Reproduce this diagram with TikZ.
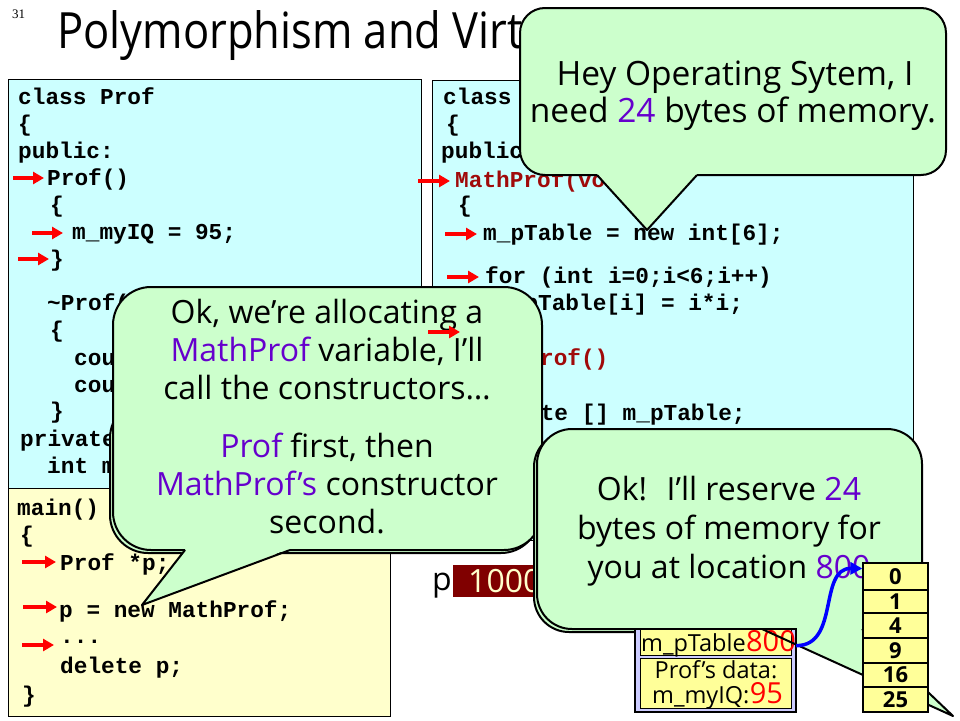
\documentclass[tikz,border=0pt]{standalone}
\usepackage{fontspec}
\usepackage{graphicx}
\setmainfont{Open Sans}
\newfontfamily\codefont{Liberation Mono}
\newfontfamily\numfont{Liberation Serif}
\usetikzlibrary{arrows.meta}
\definecolor{boxcyan}{HTML}{CCFFFF}
\definecolor{boxyellow}{HTML}{FFFFCC}
\definecolor{cgreen}{HTML}{CCFFCC}
\definecolor{cpurple}{RGB}{102,0,204}
\definecolor{codered}{RGB}{160,10,10}
\definecolor{pbox}{HTML}{800000}
\definecolor{pboxtext}{HTML}{FFFFCC}
\definecolor{memyellow}{HTML}{FFFF99}
\definecolor{memlav}{HTML}{CCCCFF}
\definecolor{arrowred}{HTML}{FF0000}
\definecolor{arrowblue}{HTML}{0000FF}
% L T R B radius baseleft baseright tipx tipy
\newcommand\mycallout[9]{%
  \fill[calloutfill,rounded corners=#5] (#1,#2) rectangle (#3,#4);
  \fill[calloutfill] (#6,{#4-1.5}) -- (#8,#9) -- (#7,{#4-1.5}) -- cycle;
  \draw[calloutline,rounded corners=#5] (#6,#4) -- (#1,#4) -- (#1,#2) -- (#3,#2) -- (#3,#4) -- (#7,#4);
  \draw[calloutline] (#7,#4) -- (#8,#9) -- (#6,#4);
}
\begin{document}
\begin{tikzpicture}[x=1pt,y=-1pt,
  codeline/.style={anchor=base west,inner sep=0pt,font=\fontsize{22.75}{27}\codefont\bfseries},
  redcode/.style={codeline,text=codered},
  ctext/.style={anchor=base,inner sep=0pt,font=\fontsize{32}{38}\selectfont},
  bigctext/.style={anchor=base,inner sep=0pt,font=\fontsize{33.5}{38}\selectfont},
  redarr/.style={draw=arrowred,line width=4pt,-{Triangle[length=11pt,width=12pt]}},
  bluearr/.style={draw=arrowblue,line width=3.5pt,-{Triangle[length=12pt,width=12pt]}},
  codebox/.style={draw=black,line width=0.8pt},
  calloutfill/.style={fill=cgreen},
  calloutline/.style={draw=black,line width=2pt,line join=round},
  cell/.style={draw=black,line width=1.2pt,fill=memyellow,minimum width=65pt,inner sep=0pt,font=\fontsize{22}{22}\selectfont\bfseries},
  memtext/.style={anchor=base west,inner sep=0pt,font=\fontsize{23.5}{23.5}\selectfont},
  memred/.style={anchor=base west,inner sep=0pt,text=arrowred,font=\fontsize{29}{29}\selectfont},
]
\useasboundingbox (0,0) rectangle (960,720);
\fill[white] (0,0) rectangle (960,720);

% title
\node[anchor=base west,inner sep=0pt,font=\fontsize{13}{13}\numfont] (slideno) at (12,18) {31};
\node[anchor=base west,inner sep=0pt,font=\fontsize{50}{50}\selectfont] (title) at (57,48) {\scalebox{0.87}[1]{Polymorphism and Virtual Functions}};

% code boxes
\filldraw[codebox,fill=boxcyan] (8,79) rectangle (421,488);
\filldraw[codebox,fill=boxyellow] (8,488) rectangle (390,716);
\filldraw[codebox,fill=boxcyan] (432,80) rectangle (913,540);

% class Prof
\node[codeline] (l1) at (18,104) {class Prof};
\node[codeline] (l2) at (18,131) {\{};
\node[codeline] (l3) at (18,158) {public:};
\node[codeline] (l4) at (47,185) {Prof()};
\node[codeline] (l5) at (50,212) {\{};
\node[codeline] (l6) at (72,239) {m\_myIQ = 95;};
\node[codeline] (l7) at (50,266) {\}};
\node[codeline] (l8) at (47,310) {\textasciitilde Prof()};
\node[codeline] (l9) at (50,337) {\{};
\node[codeline] (l10) at (74,365) {cout};
\node[codeline] (l11) at (74,392) {cout};
\node[codeline] (l12) at (50,418) {\}};
\node[codeline] (l13) at (20,446) {private:};
\node[codeline] (l14) at (47,473) {int m\_myIQ;};

% main
\node[codeline] (m1) at (17,515) {main()};
\node[codeline] (m2) at (20,542) {\{};
\node[codeline] (m3) at (60,570) {Prof *p;};
\node[codeline] (m4) at (59,617) {p = new MathProf;};
\node[codeline] (m5) at (60,643) {...};
\node[codeline] (m6) at (60,673) {delete p;};
\node[codeline] (m7) at (22,702) {\}};

% class MathProf
\node[codeline] (r1) at (443,104) {class};
\node[codeline] (r2) at (446,131) {\{};
\node[codeline] (r3) at (441,158) {public:};
\node[redcode] (r4) at (455,187) {MathProf(void)};
\node[codeline] (r5) at (458,212) {\{};
\node[codeline] (r6) at (483,240) {m\_pTable = new int[6];};
\node[codeline] (r7) at (485,283) {for (int i=0;i<6;i++)};
\node[codeline] (r8) at (497,310) {m\_pTable[i] = i*i;};
\node[redcode] (r10) at (458,365) {\textasciitilde MathProf()};
\node[codeline] (r12) at (486,420) {delete [] m\_pTable;};

% red step arrows
\draw[redarr] (13,178) -- (44,178);
\draw[redarr] (32,233) -- (63,233);
\draw[redarr] (18,259) -- (49,259);
\draw[redarr] (418,181) -- (450,181);
\draw[redarr] (445,234) -- (477,234);
\draw[redarr] (447,277) -- (479,277);
\draw[redarr] (22,562) -- (56,562);
\draw[redarr] (23,607) -- (57,607);
\draw[redarr] (22,645) -- (54,645);

% pointer variable p
\node[anchor=base west,inner sep=0pt,font=\fontsize{32}{32}\selectfont] (plabel) at (432,590) {p};
\fill[pbox] (453,565) rectangle (560,597);
\node[anchor=base west,inner sep=0pt,text=pboxtext,font=\fontsize{32}{32}\selectfont] (pval) at (468,592) {1000};

% callout 1
\mycallout{520}{8}{946}{175}{25pt}{597}{697}{647}{230}
\node[bigctext] (c1a) at (735,85) {Hey Operating Sytem, I};
\node[bigctext] (c1b) at (733,122) {need \textcolor{cpurple}{24} bytes of memory.};

% callout 2
\fill[cgreen,rounded corners=38pt] (110,400) rectangle (539,553);
\draw[calloutline,rounded corners=38pt] (110,400) rectangle (539,553);
\mycallout{113}{287}{542}{550}{38pt}{185}{290}{142}{605}
\node[ctext] (c2a) at (327,323) {Ok, we’re allocating a};
\node[ctext] (c2b) at (327,361) {\textcolor{cpurple}{MathProf} variable, I’ll};
\node[ctext] (c2c) at (327,399) {call the constructors…};
\node[ctext] (c2d) at (327,457) {\textcolor{cpurple}{Prof} first, then};
\node[ctext] (c2e) at (327,495) {\textcolor{cpurple}{MathProf’s} constructor};
\node[ctext] (c2f) at (327,533) {second.};
\draw[redarr] (428,332) -- (460,332);

% callout 3
\begin{scope}[shift={(-3,3)}]
\fill[cgreen,rounded corners=35pt] (537,429) rectangle (922,629);
\draw[calloutline,rounded corners=35pt] (537,429) rectangle (922,629);
\end{scope}
\mycallout{537}{429}{922}{629}{35pt}{762}{862}{953}{716}
\node[ctext] (c3a) at (729,500) {Ok!~ I’ll reserve \textcolor{cpurple}{24}};
\node[ctext] (c3b) at (729,539) {bytes of memory for};
\node[ctext] (c3c) at (729,578) {you at location \textcolor{cpurple}{800}};

% MathProf object in memory
\filldraw[draw=black,line width=1.2pt,fill=memlav] (635,629) rectangle (796,712);
\filldraw[draw=black,line width=1pt,fill=memyellow] (640,629) rectangle (791,655);
\filldraw[draw=black,line width=1pt,fill=memyellow] (640,658) rectangle (791,708);
\node[memtext] (ptabname) at (641,651) {m\_pTable};
\node[memred] (n800) at (ptabname.base east) {800};
\node[anchor=base,inner sep=0pt,font=\fontsize{23.5}{23.5}\selectfont] (profdata) at (716,678) {Prof’s data:};
\node[memtext] (myiq) at (652,703) {m\_myIQ:};
\node[memred] (n95) at (myiq.base east) {95};
\draw[calloutline] (762,629) -- (796,644.5);

% allocated array
\node[cell,minimum height=27pt] (c0) at (895.5,576.5) {0};
\node[cell,minimum height=23pt] (c1) at (895.5,601.5) {1};
\node[cell,minimum height=25pt] (c4) at (895.5,625.5) {4};
\node[cell,minimum height=25pt] (c9) at (895.5,650.5) {9};
\node[cell,minimum height=24pt] (c16) at (895.5,675) {16};
\node[cell,minimum height=25pt] (c25) at (895.5,699.5) {25};

\draw[bluearr] ([yshift=-5pt]n800.east) .. controls (840,646) and (818,568) .. ([yshift=8pt]c0.west);
\end{tikzpicture}
\end{document}
